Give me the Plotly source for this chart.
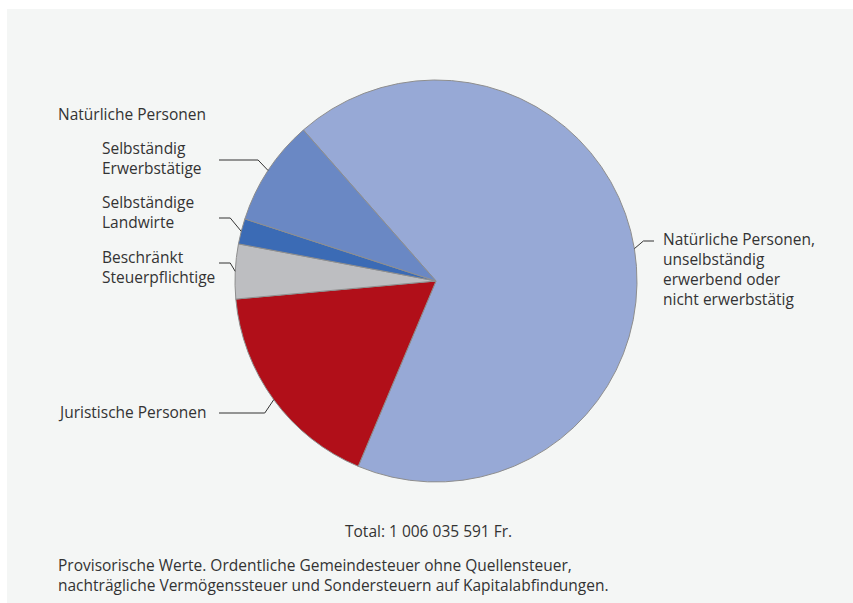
import math
import plotly.graph_objects as go

# ---- data (share of total, %) ----
categories = [
    "Natürliche Personen, unselbständig erwerbend oder nicht erwerbstätig",
    "Juristische Personen",
    "Beschränkt Steuerpflichtige",
    "Selbständige Landwirte",
    "Selbständig Erwerbstätige",
]
values = [67.80, 17.24, 4.39, 2.04, 8.53]
colors = ["#97a9d6", "#b10f19", "#bdbec1", "#3b6bb5", "#6a88c4"]
label_texts = [
    "Natürliche Personen,<br>unselbständig<br>erwerbend oder<br>nicht erwerbstätig",
    "Juristische Personen",
    "Beschränkt<br>Steuerpflichtige",
    "Selbständige<br>Landwirte",
    "Selbständig<br>Erwerbstätige",
]
group_label = "Natürliche Personen"
total_text = "Total: 1 006 035 591 Fr."
note_text = ("Provisorische Werte. Ordentliche Gemeindesteuer ohne Quellensteuer,<br>"
             "nachträgliche Vermögenssteuer und Sondersteuern auf Kapitalabfindungen.")

# ---- layout constants (pixels) ----
W, H = 853, 603
CX, CY, R = 436, 281, 201
ROT = 318.7
FONT = "Open Sans"
FS = 15.5
TXT = "#333333"

def px(x):
    return x / W

def py(y):
    return 1 - y / H

fig = go.Figure(go.Pie(
    labels=categories, values=values, sort=False, direction="clockwise",
    rotation=ROT, textinfo="none", hoverinfo="label+percent",
    marker=dict(colors=colors, line=dict(color="#8e8e8e", width=1)),
    domain=dict(x=[px(CX - R), px(CX + R)], y=[py(CY + R), py(CY - R)]),
    showlegend=False,
))

# background panel
shapes = [dict(type="rect", xref="paper", yref="paper", x0=px(7), x1=1, y0=0, y1=py(9),
               fillcolor="#f4f6f5", line=dict(width=0), layer="below")]

# label layout: (side, line_y, elbow_dx, text_x, text_y)
label_pos = [
    ("right", 241, 9, 661, 269),
    ("left", 413, -9, 56, 412),
    ("left", 263, -5, 100, 267),
    ("left", 218, -11, 100, 212),
    ("left", 160, -10, 100, 158),
]
total = sum(values)
cum = 0
annotations = []
for v, txt, (side, ly, edx, tx, ty) in zip(values, label_texts, label_pos):
    mid = math.radians(ROT + (cum + v / 2) / total * 360)
    cum += v
    ex = CX + R * math.sin(mid)
    ey = CY - R * math.cos(mid)
    bx = ex + edx
    hx = 654 if side == "right" else 219
    shapes.append(dict(type="path", xref="paper", yref="paper",
                       path=f"M {px(ex)},{py(ey)} L {px(bx)},{py(ly)} L {px(hx)},{py(ly)}",
                       line=dict(color="#333333", width=1)))
    annotations.append(dict(x=px(tx), y=py(ty), xref="paper", yref="paper", text=txt,
                            showarrow=False, xanchor="left", yanchor="middle", align="left",
                            font=dict(family=FONT, size=FS, color=TXT)))

annotations.append(dict(x=px(56), y=py(114), xref="paper", yref="paper", text=group_label,
                        showarrow=False, xanchor="left", yanchor="middle",
                        font=dict(family=FONT, size=FS, color=TXT)))
annotations.append(dict(x=px(428), y=py(531), xref="paper", yref="paper", text=total_text,
                        showarrow=False, xanchor="center", yanchor="middle",
                        font=dict(family=FONT, size=FS, color=TXT)))
annotations.append(dict(x=px(56), y=py(575), xref="paper", yref="paper", text=note_text,
                        showarrow=False, xanchor="left", yanchor="middle", align="left",
                        font=dict(family=FONT, size=FS, color=TXT)))

fig.update_layout(width=W, height=H, autosize=False, margin=dict(l=0, r=0, t=0, b=0),
                  paper_bgcolor="white", plot_bgcolor="white",
                  shapes=shapes, annotations=annotations)
fig.write_html("out.html")
